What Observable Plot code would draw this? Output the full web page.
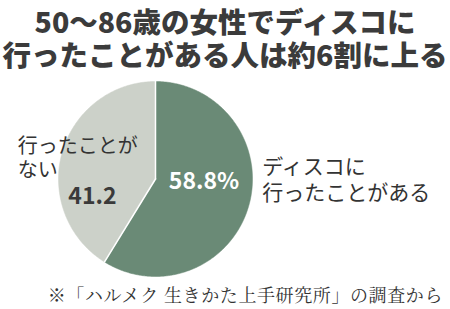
<!DOCTYPE html>
<html><head><meta charset="utf-8">
<script src="https://cdn.jsdelivr.net/npm/d3@7"></script>
<script src="https://cdn.jsdelivr.net/npm/@observablehq/plot@0.6"></script>
<style>
body{margin:0;width:450px;height:309px;background:#fff;position:relative;overflow:hidden;font-family:"Noto Sans CJK JP",sans-serif;}
.t{position:absolute;left:0;width:450px;text-align:center;font-weight:900;font-size:28.5px;line-height:31px;color:#3b3b3b;white-space:nowrap;}
#t1{top:5px;}
#t2{top:38px;}
#chart{position:absolute;left:0;top:74px;}
#caption{position:absolute;right:7px;top:283px;font-size:18px;line-height:22px;letter-spacing:0.6px;color:#333;font-family:"Noto Serif CJK JP","Noto Sans CJK JP",serif;white-space:nowrap;}
</style></head>
<body>
<div class="t" id="t1">50～86歳の女性でディスコに</div>
<div class="t" id="t2">行ったことがある人は約6割に上る</div>
<div id="chart"></div>
<div id="caption">※「ハルメク 生きかた上手研究所」の調査から</div>
<script>
const categories = ["ディスコに行ったことがある", "行ったことがない"];
const values = [58.8, 41.2];
const valueLabels = ["58.8%", "41.2"];
const nameLines = [["ディスコに", "行ったことがある"], ["行ったことが", "ない"]];
const colors = ["#6a8a76", "#ccd1c9"];

const data = categories.map((c, i) => ({category: c, value: values[i], label: valueLabels[i], lines: nameLines[i], color: colors[i]}));
const arcs = d3.pie().sort(null).value(d => d.value)(data);

// polygon points for each slice (unit circle, angle clockwise from top)
const pts = [];
arcs.forEach(a => {
  const n = Math.max(4, Math.ceil((a.endAngle - a.startAngle) / 0.01));
  pts.push({cat: a.data.category, x: 0, y: 0});
  for (let k = 0; k <= n; k++) {
    const t = a.startAngle + (a.endAngle - a.startAngle) * k / n;
    pts.push({cat: a.data.category, x: Math.sin(t), y: Math.cos(t)});
  }
  pts.push({cat: a.data.category, x: 0, y: 0});
});
const boundaries = arcs.map(a => a.startAngle).flatMap((t, i) => [
  {b: i, x: 0, y: 0}, {b: i, x: Math.sin(t), y: Math.cos(t)}
]);

const chart = Plot.plot({
  width: 450, height: 235,
  marginLeft: 58, marginRight: 198, marginTop: 7, marginBottom: 33,
  x: {domain: [-1, 1], axis: null},
  y: {domain: [-1, 1], axis: null},
  color: {domain: categories, range: colors},
  style: {fontFamily: "'Noto Sans CJK JP', sans-serif", overflow: "visible"},
  marks: [
    Plot.line(pts, {x: "x", y: "y", z: "cat", fill: "cat", stroke: "cat", strokeWidth: 0.5, curve: "linear-closed"}),
    Plot.line(boundaries, {x: "x", y: "y", z: "b", stroke: "#fff", strokeWidth: 1.5}),
    Plot.text([data[0]], {x: 0.5, y: -0.03, text: "label", fill: "#fff", fontWeight: "bold", fontSize: 23}),
    Plot.text([data[1]], {x: -0.65, y: -0.18, text: "label", fill: "#3a3a3a", fontWeight: "bold", fontSize: 23}),
    Plot.text([data[1]], {x: -1.42, y: 0.33, text: d => d.lines[0], textAnchor: "start", fill: "#333", fontSize: 20}),
    Plot.text([data[1]], {x: -1.42, y: 0.09, text: d => d.lines[1], textAnchor: "start", fill: "#333", fontSize: 20}),
    Plot.text([data[0]], {x: 1.1, y: 0.12, text: d => d.lines[0], textAnchor: "start", fill: "#333", fontSize: 21}),
    Plot.text([data[0]], {x: 1.1, y: -0.15, text: d => d.lines[1], textAnchor: "start", fill: "#333", fontSize: 21})
  ]
});
document.getElementById("chart").appendChild(chart);
</script>
</body></html>
